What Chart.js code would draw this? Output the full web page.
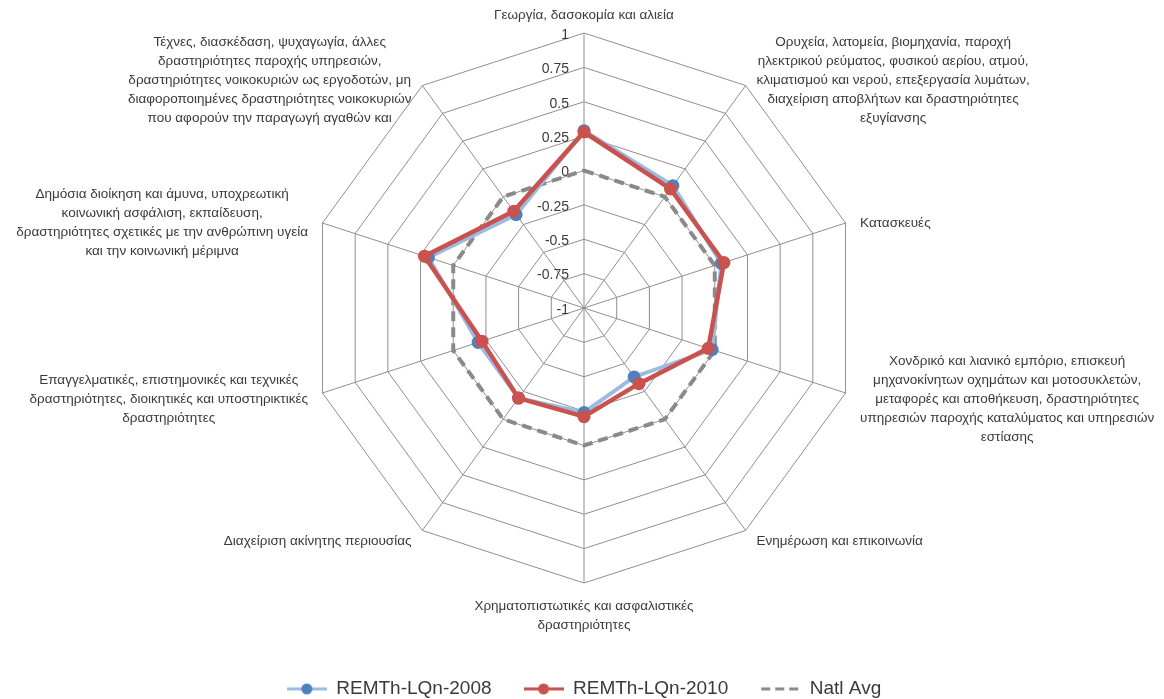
<!DOCTYPE html>
<html><head><meta charset="utf-8">
<script src="https://cdn.jsdelivr.net/npm/chart.js@4.4.1/dist/chart.umd.min.js"></script>
<style>html,body{margin:0;padding:0;background:#fff}canvas{display:block}</style>
</head><body>
<canvas id="c" width="1164" height="699"></canvas>
<script>
// ---- data ----
const categories = [
  "Γεωργία, δασοκομία και αλιεία",
  ["Ορυχεία, λατομεία, βιομηχανία, παροχή", "ηλεκτρικού ρεύματος, φυσικού αερίου, ατμού,", "κλιματισμού και νερού, επεξεργασία λυμάτων,", "διαχείριση αποβλήτων και δραστηριότητες", "εξυγίανσης"],
  "Κατασκευές",
  ["Χονδρικό και λιανικό εμπόριο, επισκευή", "μηχανοκίνητων οχημάτων και μοτοσυκλετών,", "μεταφορές και αποθήκευση, δραστηριότητες", "υπηρεσιών παροχής καταλύματος και υπηρεσιών", "εστίασης"],
  "Ενημέρωση και επικοινωνία",
  ["Χρηματοπιστωτικές και ασφαλιστικές", "δραστηριότητες"],
  "Διαχείριση ακίνητης περιουσίας",
  ["Επαγγελματικές, επιστημονικές και τεχνικές", "δραστηριότητες, διοικητικές και υποστηρικτικές", "δραστηριότητες"],
  ["Δημόσια διοίκηση και άμυνα, υποχρεωτική", "κοινωνική ασφάλιση, εκπαίδευση,", "δραστηριότητες σχετικές με την ανθρώπινη υγεία", "και την κοινωνική μέριμνα"],
  ["Τέχνες, διασκέδαση, ψυχαγωγία, άλλες", "δραστηριότητες παροχής υπηρεσιών,", "δραστηριότητες νοικοκυριών ως εργοδοτών, μη", "διαφοροποιημένες δραστηριότητες νοικοκυριών", "που αφορούν την παραγωγή αγαθών και"]
];
const seriesNames = ["REMTh-LQn-2008", "REMTh-LQn-2010", "Natl Avg"];
const values2008 = [0.29, 0.10, 0.05, -0.02, -0.38, -0.24, -0.19, -0.19, 0.19, -0.16];
const values2010 = [0.28, 0.07, 0.07, -0.05, -0.32, -0.21, -0.19, -0.22, 0.22, -0.13];
const valuesNatlAvg = [0, 0, 0, 0, 0, 0, 0, 0, 0, 0];
const axisMin = -1;
const axisMax = 1;
const axisStep = 0.25;
const tickLabels = ["-1", "-0.75", "-0.5", "-0.25", "0", "0.25", "0.5", "0.75", "1"];

// ---- styles ----
const FONT = '"Liberation Sans", Arial, sans-serif';
const TEXT = '#3a3a3a';
const GRID = '#8f8f8f';
const BLUE_LINE = '#9bbbe0', BLUE_DOT = '#4f81bd';
const RED = '#c9514e';
const GREY = '#8a8a8a';

function legendIcon(kind) {
  const c = document.createElement('canvas');
  c.width = 40; c.height = 14;
  const g = c.getContext('2d');
  g.lineWidth = 3;
  if (kind === 0 || kind === 1) {
    g.strokeStyle = kind === 0 ? BLUE_LINE : RED;
    g.beginPath(); g.moveTo(0, 7); g.lineTo(40, 7); g.stroke();
    g.fillStyle = kind === 0 ? BLUE_DOT : RED;
    g.beginPath(); g.arc(20, 7, 5.5, 0, Math.PI * 2); g.fill();
  } else {
    g.strokeStyle = GREY;
    g.setLineDash([9, 5]);
    g.beginPath(); g.moveTo(1, 7); g.lineTo(40, 7); g.stroke();
  }
  return c;
}
const icons = [legendIcon(0), legendIcon(1), legendIcon(2)];

const labelPlugin = {
  id: 'excelLabels',
  beforeDatasetsDraw(chart) {
    const s = chart.scales.r, ctx = chart.ctx;
    ctx.save();
    ctx.font = '14px ' + FONT;
    ctx.fillStyle = TEXT;
    ctx.textAlign = 'right';
    ctx.textBaseline = 'middle';
    s.ticks.forEach((t, k) => {
      const d = s.getDistanceFromCenterForValue(t.value);
      const txt = tickLabels[k] !== undefined ? tickLabels[k] : t.label;
      ctx.fillText(txt, s.xCenter - 15, s.yCenter - d + 2);
    });
    ctx.restore();
  },
  afterDraw(chart) {
    const s = chart.scales.r, ctx = chart.ctx;
    const n = categories.length;
    const lh = 19;
    ctx.save();
    ctx.font = '13.5px ' + FONT;
    ctx.fillStyle = TEXT;
    ctx.textAlign = 'center';
    ctx.textBaseline = 'middle';
    categories.forEach((lab, i) => {
      const lines = Array.isArray(lab) ? lab : [lab];
      const ang = Math.round(i * 360 / n);
      const bw = Math.max(...lines.map(l => ctx.measureText(l).width));
      const bh = lines.length * lh;
      const p = s.getPointPosition(i, s.drawingArea + 10);
      let cx, top;
      if (ang === 0) { cx = p.x; top = p.y - bh + 2; }
      else if (ang === 180) { cx = p.x; top = p.y + 4; }
      else if (ang < 180) { cx = p.x + 5 + bw / 2; top = p.y + 3 - bh / 2; }
      else { cx = p.x - 5 - bw / 2; top = p.y + 3 - bh / 2; }
      lines.forEach((l, k) => ctx.fillText(l, cx, top + lh * k + lh / 2));
    });
    ctx.restore();
  }
};

new Chart(document.getElementById('c'), {
  type: 'radar',
  data: {
    labels: categories,
    datasets: [
      { label: seriesNames[0], data: values2008, borderColor: BLUE_LINE, borderWidth: 4,
        pointBackgroundColor: BLUE_DOT, pointBorderColor: BLUE_DOT, pointRadius: 6.5, pointBorderWidth: 0,
        fill: false, order: 1 },
      { label: seriesNames[1], data: values2010, borderColor: RED, borderWidth: 4.5,
        pointBackgroundColor: RED, pointBorderColor: RED, pointRadius: 6.5, pointBorderWidth: 0,
        fill: false, order: 0 },
      { label: seriesNames[2], data: valuesNatlAvg, borderColor: GREY, borderWidth: 4,
        borderDash: [10, 6], pointRadius: 0, fill: false, order: 2 }
    ]
  },
  options: {
    responsive: false,
    animation: false,
    devicePixelRatio: 1,
    layout: { padding: { top: 33, bottom: 0, left: 4, right: 0 } },
    elements: { line: { tension: 0 } },
    scales: {
      r: {
        min: axisMin, max: axisMax,
        ticks: { stepSize: axisStep, display: false },
        grid: { color: GRID, lineWidth: 1 },
        angleLines: { color: GRID, lineWidth: 1 },
        pointLabels: { display: false }
      }
    },
    plugins: {
      tooltip: { enabled: false },
      legend: {
        position: 'bottom',
        maxHeight: 116,
        title: { display: true, text: '', padding: { top: 50, bottom: 0 }, font: { size: 12 } },
        labels: {
          font: { family: FONT, size: 19 },
          color: TEXT,
          usePointStyle: true,
          pointStyleWidth: 40,
          padding: 32,
          sort: (a, b) => a.datasetIndex - b.datasetIndex,
          generateLabels(chart) {
            const items = Chart.defaults.plugins.legend.labels.generateLabels(chart);
            items.forEach(it => { it.pointStyle = icons[it.datasetIndex]; it.lineWidth = 0; });
            return items;
          }
        }
      }
    }
  },
  plugins: [labelPlugin]
});
</script>
</body></html>
